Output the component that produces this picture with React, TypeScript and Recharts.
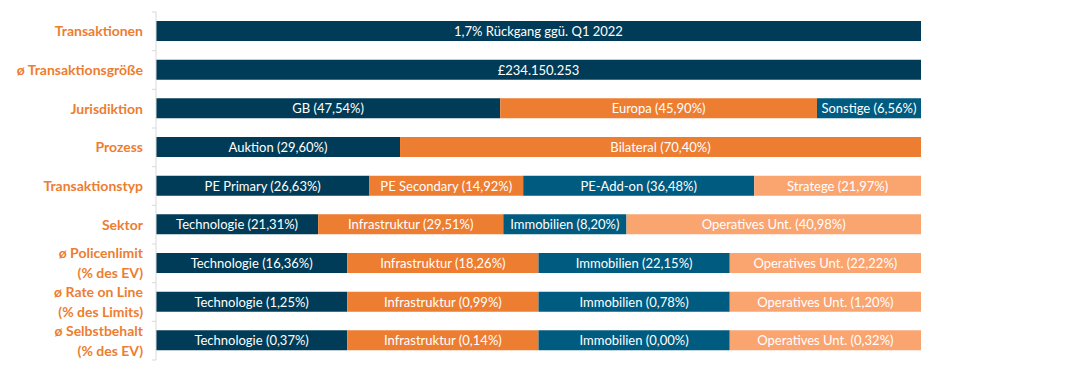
import React from "react";
import { BarChart, Bar, XAxis, YAxis, LabelList } from "recharts";

const categories = [
  "Transaktionen",
  "ø Transaktionsgröße",
  "Jurisdiktion",
  "Prozess",
  "Transaktionstyp",
  "Sektor",
  "ø Policenlimit\n(% des EV)",
  "ø Rate on Line\n(% des Limits)",
  "ø Selbstbehalt\n(% des EV)",
];

const seg1 = [100, 100, 45.0, 31.9, 27.9, 21.2, 25, 25, 25];
const seg2 = [0, 0, 41.4, 68.1, 20.1, 24.2, 25, 25, 25];
const seg3 = [0, 0, 13.6, 0, 30.2, 16.1, 25, 25, 25];
const seg4 = [0, 0, 0, 0, 21.8, 38.5, 25, 25, 25];

const labels1 = [
  "1,7% Rückgang ggü. Q1 2022",
  "£234.150.253",
  "GB (47,54%)",
  "Auktion (29,60%)",
  "PE Primary (26,63%)",
  "Technologie (21,31%)",
  "Technologie (16,36%)",
  "Technologie (1,25%)",
  "Technologie (0,37%)",
];
const labels2 = [
  "",
  "",
  "Europa (45,90%)",
  "Bilateral (70,40%)",
  "PE Secondary (14,92%)",
  "Infrastruktur (29,51%)",
  "Infrastruktur (18,26%)",
  "Infrastruktur (0,99%)",
  "Infrastruktur (0,14%)",
];
const labels3 = [
  "",
  "",
  "Sonstige (6,56%)",
  "",
  "PE-Add-on (36,48%)",
  "Immobilien (8,20%)",
  "Immobilien (22,15%)",
  "Immobilien (0,78%)",
  "Immobilien (0,00%)",
];
const labels4 = [
  "",
  "",
  "",
  "",
  "Stratege (21,97%)",
  "Operatives Unt. (40,98%)",
  "Operatives Unt. (22,22%)",
  "Operatives Unt. (1,20%)",
  "Operatives Unt. (0,32%)",
];

const colors = ["#003C57", "#ED7D31", "#005B80", "#FAA470"];

const data = categories.map((c, i) => ({
  cat: c,
  s1: seg1[i],
  s2: seg2[i],
  s3: seg3[i],
  s4: seg4[i],
  l1: labels1[i],
  l2: labels2[i],
  l3: labels3[i],
  l4: labels4[i],
}));

const FONT = "Lato, 'Open Sans', sans-serif";
const BAND = 348 / categories.length;

const renderLabel = (props: any) => {
  const { x, y, width, height, value } = props;
  if (!value || !width) return null;
  return (
    <text
      x={Number(x) + Number(width) / 2}
      y={Number(y) + Number(height) / 2}
      textAnchor="middle"
      dominantBaseline="central"
      fill="#ffffff"
      fontSize={13}
      fontFamily={FONT}
    >
      {value}
    </text>
  );
};

const YTick = (props: any) => {
  const { x, y, payload, index } = props;
  const lines = String(payload.value).split("\n");
  const lh = 20;
  const axisX = x + 8;
  return (
    <g>
      <line x1={axisX - 4} x2={axisX} y1={y - BAND / 2} y2={y - BAND / 2} stroke="#D9D9D9" />
      {index === categories.length - 1 && (
        <line x1={axisX - 4} x2={axisX} y1={y + BAND / 2} y2={y + BAND / 2} stroke="#D9D9D9" />
      )}
      <text
        x={axisX - 13}
        y={y}
        textAnchor="end"
        fill="#ED7D31"
        fontWeight="bold"
        fontSize={14}
        fontFamily={FONT}
      >
        {lines.map((l, i) => (
          <tspan
            key={i}
            x={axisX - 13}
            dy={i === 0 ? -((lines.length - 1) * lh) / 2 + 5 : lh}
          >
            {l}
          </tspan>
        ))}
      </text>
    </g>
  );
};

export default function App() {
  return (
    <BarChart
      width={1059}
      height={370}
      data={data}
      layout="vertical"
      margin={{ top: 4, right: 146, bottom: 18, left: 0 }}
      barSize={20}
    >
      <XAxis type="number" domain={[0, 100]} hide />
      <YAxis
        type="category"
        dataKey="cat"
        width={148}
        axisLine={{ stroke: "#D9D9D9" }}
        tickLine={false}
        tickSize={0}
        tickMargin={8}
        tick={<YTick />}
        interval={0}
      />
      {["s1", "s2", "s3", "s4"].map((k, i) => (
        <Bar
          key={k}
          dataKey={k}
          stackId="a"
          fill={colors[i]}
          isAnimationActive={false}
        >
          <LabelList dataKey={"l" + (i + 1)} content={renderLabel} />
        </Bar>
      ))}
    </BarChart>
  );
}
